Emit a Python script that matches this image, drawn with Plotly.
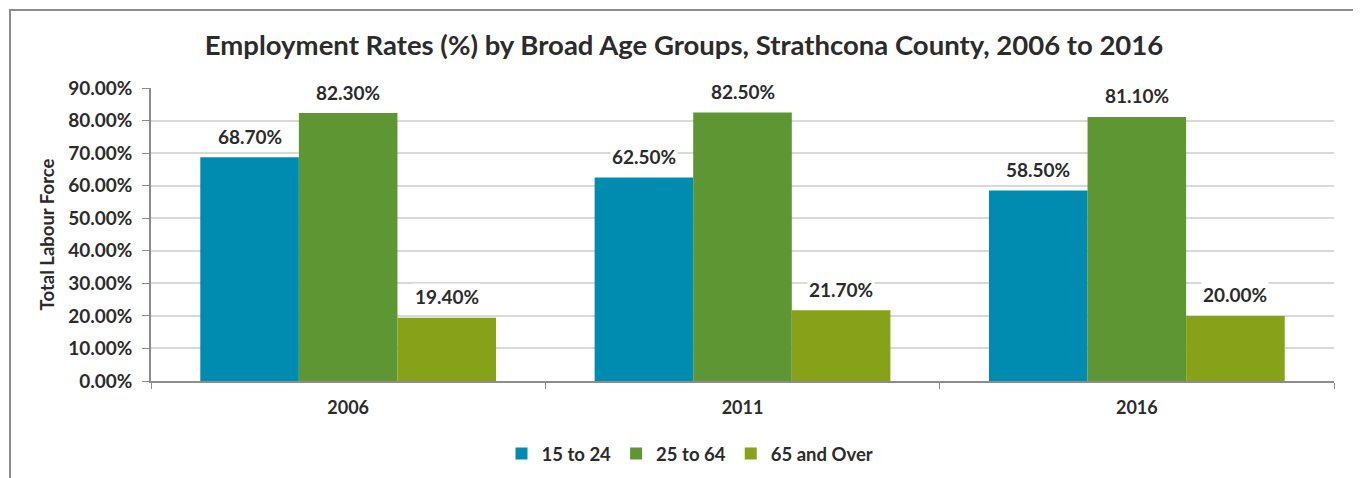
import plotly.graph_objects as go

years = ["2006", "2011", "2016"]
series_names = ["15 to 24", "25 to 64", "65 and Over"]
rate_15_24 = [68.7, 62.5, 58.5]
rate_25_64 = [82.3, 82.5, 81.1]
rate_65_over = [19.4, 21.7, 20.0]
colors = ["#008BB0", "#5D9632", "#87A219"]
y_ticks = [0, 10, 20, 30, 40, 50, 60, 70, 80, 90]

FONT = "Lato"
TXT = "#2B2B2B"

OFF = 8  # page body margin
L, T = 151 - OFF, 88 - OFF
W, H = 1361 - OFF, 478 - OFF
pw = 1334 - 151
ph = 381 - 88
R = W - L - pw
B = H - T - ph

fig = go.Figure()
all_series = [rate_15_24, rate_25_64, rate_65_over]
for name, vals, col in zip(series_names, all_series, colors):
    fig.add_trace(go.Bar(x=years, y=vals, name=name,
                         marker=dict(color=col, line=dict(width=0))))

# data labels with white background (hide gridlines behind)
bar_w = pw / 3 * 0.75 / 3
for i, vals in enumerate(all_series):
    for k, v in enumerate(vals):
        fig.add_annotation(x=k, y=v, xref="x", yref="y", text=f"{v:.2f}%",
                           showarrow=False, xshift=(i - 1) * bar_w, yshift=21,
                           yanchor="middle", bgcolor="white", borderpad=1,
                           font=dict(family=FONT, size=19, color=TXT, weight="bold"))

legend_y = -(454 - 381) / ph

fig.update_layout(
    width=W, height=H, autosize=False,
    margin=dict(l=L, r=R, t=T, b=B, autoexpand=False),
    paper_bgcolor="white", plot_bgcolor="white",
    barmode="group", bargap=0.25, bargroupgap=0,
    font=dict(family=FONT, color=TXT, size=18, weight="bold"),
    title=dict(text="Employment Rates (%) by Broad Age Groups, Strathcona County, 2006 to 2016",
               x=(684 - OFF) / W, xref="container", xanchor="center",
               y=1 - (45 - OFF) / H, yref="container", yanchor="middle",
               font=dict(family=FONT, size=27.5, color=TXT, weight="bold")),
    legend=dict(orientation="h", x=(690 - 151) / pw, xanchor="center",
                y=legend_y, yanchor="middle",
                font=dict(family=FONT, size=18.5, color=TXT, weight="bold"), traceorder="normal"),
    showlegend=True,
)
fig.update_yaxes(range=[0, 90], tickvals=y_ticks, ticktext=[f"{v:.2f}%" for v in y_ticks],
                 tickfont=dict(family=FONT, size=19, color=TXT, weight="bold"),
                 showline=True, linecolor="#8C8C8C", linewidth=1.5,
                 ticks="outside", ticklen=7, tickcolor="#8C8C8C",
                 showgrid=True, gridcolor="#D9D9D9", gridwidth=1.5, zeroline=False,
                 ticklabelstandoff=6, automargin=False,
                 title=dict(text="Total Labour Force", font=dict(family=FONT, size=18.5, color=TXT, weight="bold"), standoff=9))
fig.update_xaxes(type="category", categoryorder="array", categoryarray=years,
                 tickfont=dict(family=FONT, size=18, color=TXT, weight="bold"),
                 showline=True, linecolor="#8C8C8C", linewidth=1.5,
                 ticks="outside", ticklen=6, tickcolor="#8C8C8C", tickson="boundaries",
                 ticklabelstandoff=10, automargin=False)

# outer border
fig.add_shape(type="rect", xref="paper", yref="paper",
              x0=(10 - 151) / pw, x1=(1357 - 151) / pw,
              y0=(381 - 495) / ph, y1=(381 - 10) / ph,
              line=dict(color="#8C8C8C", width=2), fillcolor="rgba(0,0,0,0)", layer="below")

fig.write_html("out.html")
